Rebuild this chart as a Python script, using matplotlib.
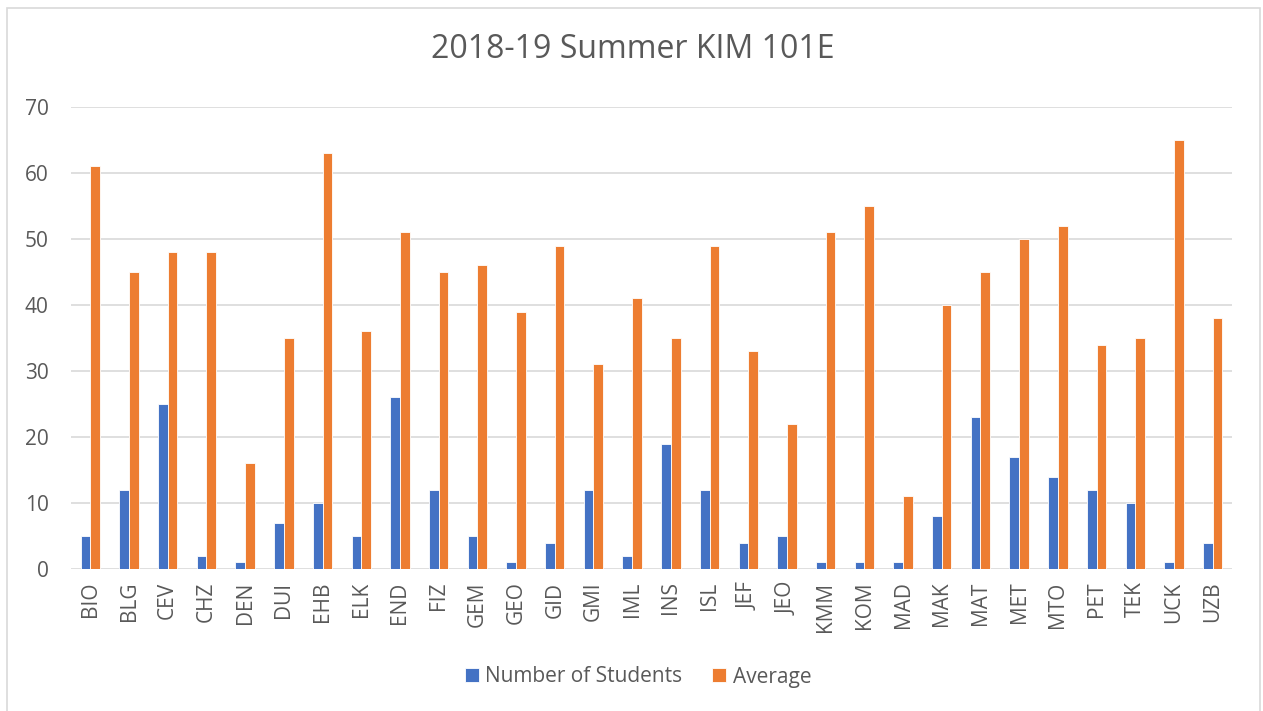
import matplotlib.pyplot as plt
import numpy as np

plt.rcParams['font.family'] = ['Open Sans', 'DejaVu Sans']

# Bölümler ve değerler
departments = ["BIO", "BLG", "CEV", "CHZ", "DEN", "DUI", "EHB", "ELK", "END", "FIZ",
               "GEM", "GEO", "GID", "GMI", "IML", "INS", "ISL", "JEF", "JEO", "KMM",
               "KOM", "MAD", "MAK", "MAT", "MET", "MTO", "PET", "TEK", "UCK", "UZB"]
num_students = [5, 12, 25, 2, 1, 7, 10, 5, 26, 12,
                5, 1, 4, 12, 2, 19, 12, 4, 5, 1,
                1, 1, 8, 23, 17, 14, 12, 10, 1, 4]
average = [61, 45, 48, 48, 16, 35, 63, 36, 51, 45,
           46, 39, 49, 31, 41, 35, 49, 33, 22, 51,
           55, 11, 40, 45, 50, 52, 34, 35, 65, 38]

text_color = '#595959'
x = np.arange(len(departments))
w = 0.25

fig = plt.figure(figsize=(12.63, 7.11), dpi=100)
ax = fig.add_axes([71 / 1263, 1 - 569 / 711, (1232 - 71) / 1263, (569 - 107) / 711])

ax.bar(x - w / 2, num_students, w, color='#4472C4', edgecolor='white', linewidth=0.6,
       label="Number of Students", zorder=3)
ax.bar(x + w / 2, average, w, color='#ED7D31', edgecolor='white', linewidth=0.6,
       label="Average", zorder=3)

ax.set_xlim(-0.5, len(departments) - 0.5)
ax.set_ylim(0, 70)
ax.set_yticks(range(0, 71, 10))
ax.set_xticks(x)
ax.set_xticklabels(departments, rotation=90)
ax.tick_params(axis='both', length=0, labelsize=15, colors=text_color)
ax.tick_params(axis='x', pad=9)
ax.tick_params(axis='y', pad=16)
ax.grid(axis='y', color='#D9D9D9', linewidth=1.2, zorder=0)
for s in ax.spines.values():
    s.set_visible(False)

fig.text(633 / 1263, 1 - 50 / 711, "2018-19 Summer KIM 101E", ha='center', va='center',
         fontsize=23, color=text_color)

fig.legend(loc='center', bbox_to_anchor=(638 / 1263, 1 - 677 / 711), ncol=2, frameon=False,
           fontsize=15, labelcolor=text_color, handlelength=0.67, handleheight=0.67,
           handletextpad=0.3, columnspacing=1.45)

# рамка вокруг диаграммы
fig.patches.append(plt.Rectangle((7 / 1263, -0.01), (1260 - 7) / 1263, 1 - 8 / 711 + 0.01,
                                 transform=fig.transFigure, fill=False,
                                 edgecolor='#D9D9D9', linewidth=1.2))

fig.savefig("out.png", dpi=100)
